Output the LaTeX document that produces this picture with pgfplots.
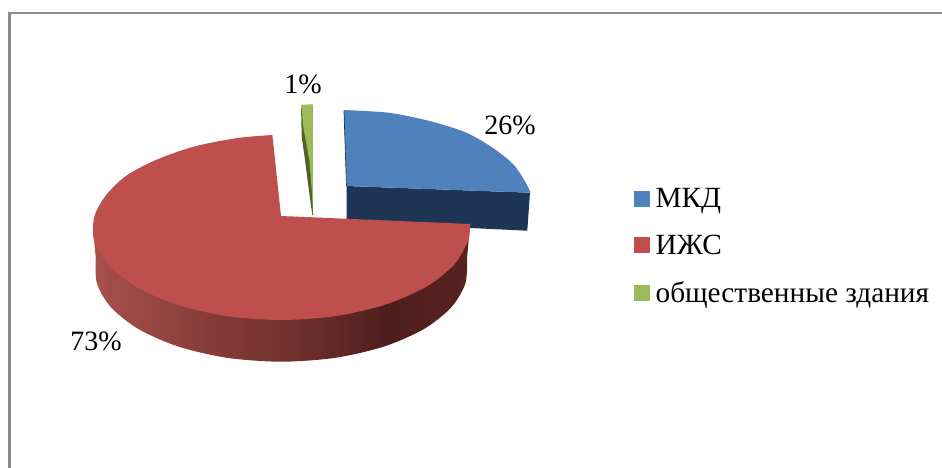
\documentclass[border=0pt]{standalone}
\usepackage{pgfplots}
\pgfplotsset{compat=1.18}
\usepackage{fontspec}
\setmainfont{Liberation Serif}
\definecolor{blueT}{HTML}{4F81BD}
\definecolor{blueS}{HTML}{1F3556}
\definecolor{redT}{HTML}{BE4F4C}
\definecolor{greenT}{HTML}{9BBB59}
\definecolor{greenS}{HTML}{4F6228}
\definecolor{frame}{HTML}{8C8C8C}
\definecolor{w0}{RGB}{168,80,76}
\definecolor{w1}{RGB}{138,63,60}
\definecolor{w2}{RGB}{112,48,45}
\definecolor{w3}{RGB}{78,30,28}
\definecolor{w4}{RGB}{88,34,32}
\pgfdeclarehorizontalshading{wallshade}{100bp}{
 color(0bp)=(w0); color(25bp)=(w0); color(38bp)=(w1); color(52bp)=(w2); color(64bp)=(w3); color(75bp)=(w4); color(100bp)=(w4)}
\begin{document}
\begin{tikzpicture}
\begin{axis}[
  scale only axis, width=942pt, height=468pt,
  xmin=0, xmax=942, ymin=0, ymax=468, y dir=reverse,
  hide axis,
  legend style={at={(634/942,222/468)}, anchor=west, draw=none, fill=none,
    font=\fontsize{29.3}{31}\selectfont, row sep=21.5pt, inner sep=0pt,
    cells={anchor=west}},
  legend cell align=left,
  legend image code/.code={\fill[#1] (0pt,-7.5pt) rectangle (15pt,7.5pt); \path (0pt,0pt) (19pt,0pt);},
]
\addlegendimage{blueT}
\addlegendimage{redT}
\addlegendimage{greenT}
% frame
\addplot[draw=frame, line width=2.4pt, forget plot] coordinates {(9.5,468) (9.5,12.8) (942,12.8)};
% blue wall
\addplot[fill=blueS, draw=none, forget plot] coordinates {(346.7,186) (530,192.7) (527.3,230.7) (470,228) (346.7,225)} -- cycle;
% blue top
\addplot[fill=blueT, draw=none, smooth, forget plot] coordinates {
 (343.8,110) (389.1,112.8) (429.5,121) (465.9,132.5) (493,148) (513,164) (524.5,180.5) (530.6,192.7)} -- (axis cs:346.7,186) -- cycle;
\addplot[draw=blueS, line width=0.7pt, forget plot] coordinates {(344,111) (346.5,186)};
% green
\addplot[fill=greenS, draw=none, forget plot] coordinates {(301,105) (301.7,136.7) (305,160) (309.3,193.3) (312.3,215) (313,215) (312.7,105)} -- cycle;
\addplot[fill=greenT, draw=none, forget plot] coordinates {(301,105) (312.7,104.3) (313,215) (312,193.3) (309.3,160) (303.3,126.7)} -- cycle;
% red wall
\addplot[shading=wallshade, draw=none, smooth, forget plot] coordinates {
 (95.8,258) (96.9,283.3) (110.9,307.2) (138.2,328.9) (177.9,346.4) (227,357.8) (281.15,361.7) (335.3,357.8) (384.4,346.4) (424.1,328.9) (451.4,307.2) (465.4,283.3) (467,259)} -- (axis cs:470,224) -- (axis cs:92.8,227) -- cycle;
% red top
\addplot[fill=redT, draw=none, smooth, forget plot] coordinates {
 (272.4,135) (237.7,138) (196.3,146) (159.5,158.5) (128,174.5) (107,194) (94.5,216) (94.1,240.4) (108.2,264.6) (136,286.7) (176.3,304.4) (226.2,316) (281.15,320) (336.1,316) (386,304.4) (426.3,286.7) (454.1,264.6) (468.2,240.4) (470,224)} -- (axis cs:281,216) -- cycle;
\node[font=\fontsize{28}{30}\selectfont] at (axis cs:303,84) {1\%};
\node[font=\fontsize{28}{30}\selectfont] at (axis cs:510,125) {26\%};
\node[font=\fontsize{28}{30}\selectfont] at (axis cs:96,341) {73\%};
\addlegendentry{МКД}
\addlegendentry{ИЖС}
\addlegendentry{общественные здания}
\end{axis}
\pgfresetboundingbox
\path[use as bounding box] (0,0) rectangle (942pt,468pt);
\end{tikzpicture}
\end{document}
